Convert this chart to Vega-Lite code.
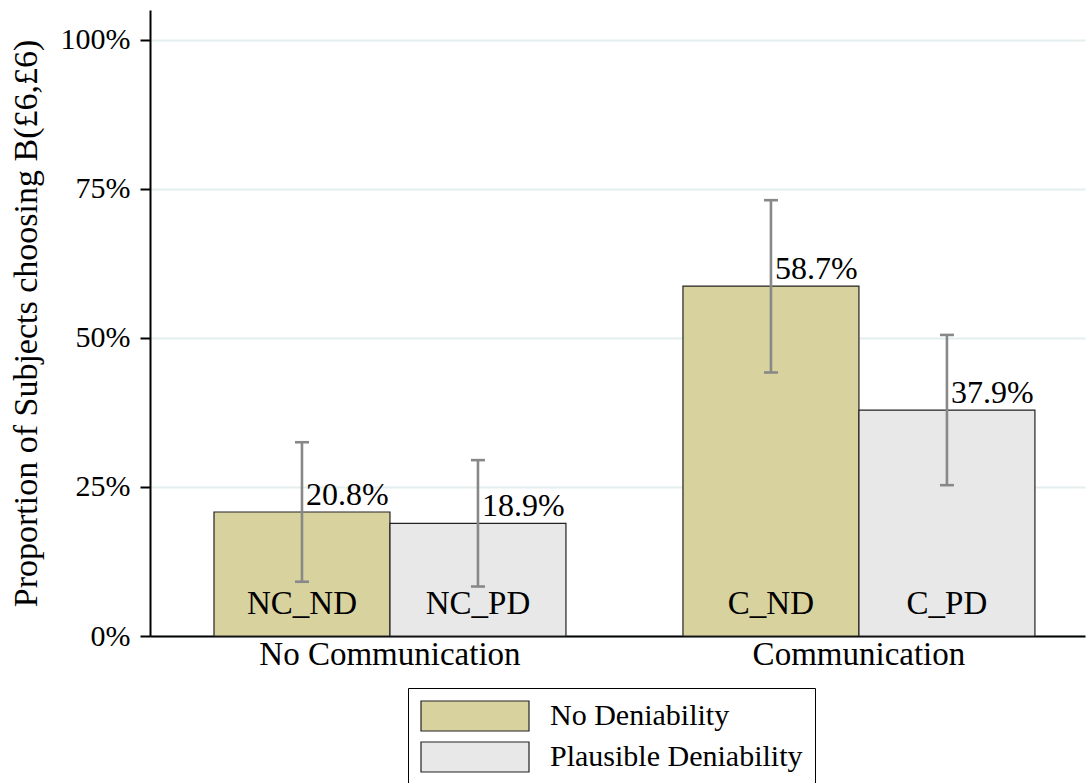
{
  "$schema": "https://vega.github.io/schema/vega-lite/v6.json",
  "autosize": {"type": "none"},
  "padding": {"left": 150, "top": 10, "right": 4, "bottom": 147},
  "width": 935,
  "height": 626,
  "background": "white",
  "config": {
    "font": "Liberation Serif",
    "view": {"stroke": null},
    "text": {"font": "Liberation Serif", "color": "black"}
  },
  "data": {
    "values": [
      {"group": "No Communication", "cond": "No Deniability", "code": "NC_ND", "value": 0.208, "lo": 0.091, "hi": 0.325},
      {"group": "No Communication", "cond": "Plausible Deniability", "code": "NC_PD", "value": 0.189, "lo": 0.083, "hi": 0.295},
      {"group": "Communication", "cond": "No Deniability", "code": "C_ND", "value": 0.587, "lo": 0.442, "hi": 0.731},
      {"group": "Communication", "cond": "Plausible Deniability", "code": "C_PD", "value": 0.379, "lo": 0.253, "hi": 0.505}
    ]
  },
  "encoding": {
    "x": {
      "field": "group",
      "type": "nominal",
      "scale": {
        "domain": ["No Communication", "Communication"],
        "paddingInner": 0.2495,
        "paddingOuter": 0.1216,
        "align": 0.561,
        "round": false
      },
      "axis": {
        "title": null,
        "labelAngle": 0,
        "labelFontSize": 33,
        "labelColor": "black",
        "labelPadding": 2,
        "labelLimit": 600,
        "ticks": false,
        "domainColor": "black",
        "domainWidth": 2
      }
    },
    "xOffset": {
      "field": "cond",
      "type": "nominal",
      "scale": {"domain": ["No Deniability", "Plausible Deniability"], "paddingInner": 0, "paddingOuter": 0}
    }
  },
  "layer": [
    {
      "mark": {"type": "bar", "stroke": "#222222", "strokeWidth": 1.2},
      "encoding": {
        "y": {
          "field": "value",
          "type": "quantitative",
          "scale": {"domain": [0, 1.05], "nice": false},
          "axis": {
            "title": "Proportion of Subjects choosing B(£6,£6)",
            "titleFontSize": 34,
            "titleFontWeight": "normal",
            "titleColor": "black",
            "titlePadding": 17,
            "values": [0, 0.25, 0.5, 0.75, 1],
            "format": ".0%",
            "labelFontSize": 30,
            "labelColor": "black",
            "labelPadding": 10,
            "tickSize": 10,
            "tickWidth": 2,
            "tickColor": "black",
            "domainColor": "black",
            "domainWidth": 2,
            "grid": true,
            "gridColor": "#e4eeee",
            "gridWidth": 2
          }
        },
        "fill": {
          "field": "cond",
          "type": "nominal",
          "scale": {"domain": ["No Deniability", "Plausible Deniability"], "range": ["#d8d29e", "#e8e8e8"]},
          "legend": {
            "title": null,
            "orient": "none",
            "legendX": 258,
            "legendY": 678,
            "direction": "vertical",
            "fillColor": "white",
            "strokeColor": "black",
            "padding": 12,
            "symbolType": "M-1,-1H6.2V1H-1Z",
            "symbolSize": 900,
            "symbolStrokeColor": "#222222",
            "symbolStrokeWidth": 1.2,
            "symbolOpacity": 1,
            "labelFontSize": 30,
            "labelColor": "black",
            "labelOffset": 98,
            "labelLimit": 400,
            "rowPadding": 5
          }
        }
      }
    },
    {
      "mark": {"type": "rule", "stroke": "#888888", "strokeWidth": 2.6},
      "encoding": {
        "y": {"field": "lo", "type": "quantitative"},
        "y2": {"field": "hi"}
      }
    },
    {
      "mark": {"type": "tick", "color": "#888888", "size": 14, "thickness": 2.6, "opacity": 1},
      "encoding": {"y": {"field": "lo", "type": "quantitative"}}
    },
    {
      "mark": {"type": "tick", "color": "#888888", "size": 14, "thickness": 2.6, "opacity": 1},
      "encoding": {"y": {"field": "hi", "type": "quantitative"}}
    },
    {
      "mark": {"type": "text", "align": "left", "baseline": "alphabetic", "dx": 4, "dy": -7, "fontSize": 32},
      "encoding": {
        "y": {"field": "value", "type": "quantitative"},
        "text": {"field": "value", "type": "quantitative", "format": ".1%"}
      }
    },
    {
      "mark": {"type": "text", "align": "center", "baseline": "alphabetic", "dy": -22, "fontSize": 33},
      "encoding": {
        "y": {"datum": 0, "type": "quantitative"},
        "text": {"field": "code", "type": "nominal"}
      }
    }
  ]
}
